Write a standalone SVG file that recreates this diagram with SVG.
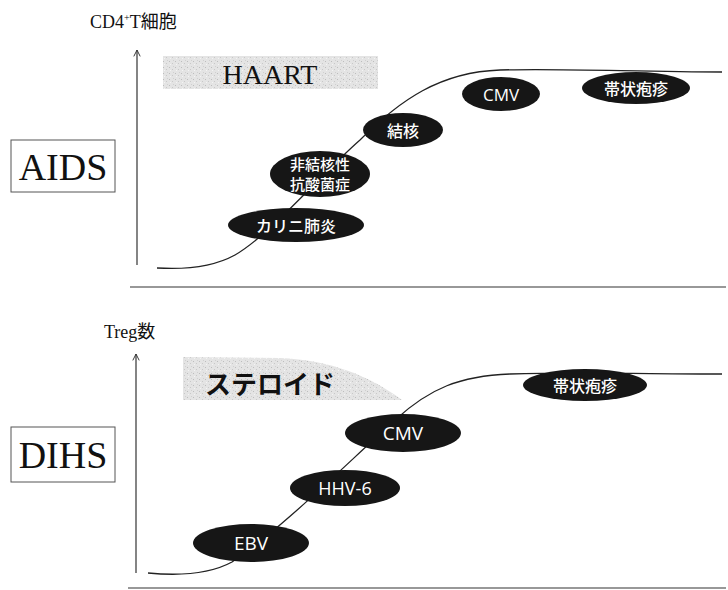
<svg xmlns="http://www.w3.org/2000/svg" width="728" height="590" viewBox="0 0 728 590">
<defs>
<style>
.axis{stroke:#333;stroke-width:1.2;fill:none}
.curve{stroke:#222;stroke-width:1.3;fill:none}
.ell{fill:#161616}
.lbl{fill:#fff;font-family:"Noto Sans CJK JP","Liberation Sans",sans-serif;font-weight:500;font-size:16px;text-anchor:middle;dominant-baseline:central}
.lat{font-family:"Open Sans","Liberation Sans",sans-serif;font-weight:normal;font-size:17px}
.ser{font-family:"Liberation Serif","Noto Sans CJK JP",serif;fill:#111}
.box{fill:#fff;stroke:#555;stroke-width:1}
.shade{fill:url(#speck)}
</style>
<pattern id="speck" width="6" height="6" patternUnits="userSpaceOnUse">
<rect width="6" height="6" fill="#e4e4e4"/>
<rect x="1" y="1" width="1" height="1" fill="#bdbdbd"/>
<rect x="4" y="3" width="1" height="1" fill="#c8c8c8"/>
<rect x="2" y="4" width="1" height="1" fill="#f4f4f4"/>
<rect x="5" y="0" width="1" height="1" fill="#d0d0d0"/>
</pattern>
<marker id="ah" viewBox="0 0 10 10" refX="9" refY="5" markerWidth="8" markerHeight="8" orient="auto" markerUnits="userSpaceOnUse">
<path d="M1,1 L9,5 L1,9" fill="none" stroke="#333" stroke-width="1.2"/>
</marker>
</defs>

<!-- top panel -->
<g id="top-labels">
<text class="ser" x="90" y="28" font-size="18">CD4<tspan font-size="10" dy="-7">+</tspan><tspan dy="7">T細胞</tspan></text>
</g>
<g id="haart">
<rect class="shade" x="163" y="56" width="215" height="33"/>
<text class="ser" x="270" y="84" font-size="28" text-anchor="middle">HAART</text>
</g>
<g id="aids">
<rect class="box" x="11" y="140" width="104" height="52"/>
<text class="ser" x="63" y="180" font-size="38" text-anchor="middle">AIDS</text>
</g>

<g id="connectors">
<line class="axis" x1="137" y1="265" x2="137" y2="50" marker-end="url(#ah)"/>
<line class="axis" x1="130" y1="287" x2="726" y2="287"/>
<path class="curve" d="M157,268 C190,270 215,266 235,255 C270,235 320,175 360,140 C400,100 440,72 500,70 C560,68 640,72 722,72"/>
<line class="axis" x1="136" y1="573" x2="136" y2="354" marker-end="url(#ah)"/>
<line class="axis" x1="128" y1="588" x2="726" y2="588"/>
<path class="curve" d="M148,573 C180,576 210,574 232,562 C280,530 340,470 395,420 C430,388 460,376 510,374 C580,372 650,374 722,374"/>
</g>

<g id="n-pcp"><ellipse class="ell" cx="296" cy="225" rx="68" ry="17"/><text class="lbl" x="296" y="225">カリニ肺炎</text></g>
<g id="n-ntm"><ellipse class="ell" cx="320" cy="174" rx="50" ry="23"/><text class="lbl" x="320" y="174" style="font-size:15px;dominant-baseline:auto"><tspan x="320" y="170">非結核性</tspan><tspan x="320" y="190">抗酸菌症</tspan></text></g>
<g id="n-tb"><ellipse class="ell" cx="403" cy="130" rx="40" ry="17"/><text class="lbl" x="403" y="130">結核</text></g>
<g id="n-cmv1"><ellipse class="ell" cx="501" cy="94" rx="39" ry="17"/><text class="lbl lat" x="501" y="94">CMV</text></g>
<g id="n-hz1"><ellipse class="ell" cx="636" cy="88" rx="54" ry="16"/><text class="lbl" x="636" y="88">帯状疱疹</text></g>

<!-- bottom panel -->
<g id="bottom-labels">
<text class="ser" x="104" y="338" font-size="18">Treg数</text>
</g>
<g id="steroid">
<path class="shade" d="M183,357 L280,358 C330,360 370,376 402,400 L183,400 Z"/>
<text x="205" y="394" font-family="'Noto Sans CJK JP','Liberation Sans',sans-serif" font-weight="bold" font-size="26" fill="#111">ステロイド</text>
</g>
<g id="dihs">
<rect class="box" x="11" y="427" width="104" height="55"/>
<text class="ser" x="63" y="468" font-size="38" text-anchor="middle">DIHS</text>
</g>

<g id="n-hz2"><ellipse class="ell" cx="585" cy="385" rx="62" ry="16"/><text class="lbl" x="585" y="385">帯状疱疹</text></g>
<g id="n-cmv2"><ellipse class="ell" cx="403" cy="433" rx="58" ry="19"/><text class="lbl lat" x="403" y="433" style="font-size:19px">CMV</text></g>
<g id="n-hhv6"><ellipse class="ell" cx="345" cy="488" rx="55" ry="18"/><text class="lbl lat" x="345" y="488" style="font-size:18px">HHV-6</text></g>
<g id="n-ebv"><ellipse class="ell" cx="251" cy="543" rx="58" ry="19"/><text class="lbl lat" x="251" y="543" style="font-size:19px">EBV</text></g>
</svg>
